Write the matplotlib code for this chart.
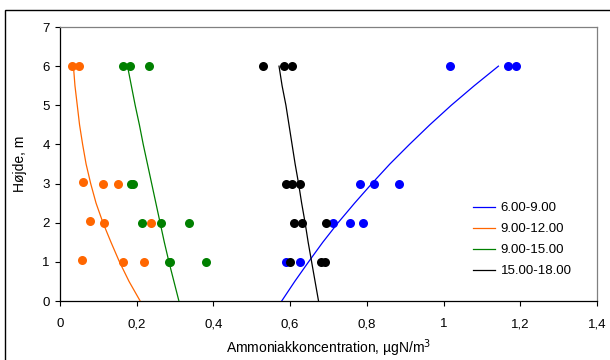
import matplotlib
matplotlib.use("Agg")
import matplotlib.pyplot as plt
from matplotlib.patches import Rectangle

plt.rcParams['font.family'] = ['Liberation Sans', 'DejaVu Sans']

# --- measured points (concentration, height) ---
blue_x = [1.018, 1.169, 1.189, 0.781, 0.819, 0.885, 0.711, 0.757, 0.790, 0.590, 0.626]
blue_y = [6, 6, 6, 3, 3, 3, 2, 2, 2, 1, 1]

orange_x = [0.032, 0.050, 0.061, 0.111, 0.152, 0.079, 0.116, 0.236, 0.057, 0.165, 0.220]
orange_y = [6, 6, 3.05, 3, 3, 2.05, 2, 2, 1.05, 1, 1]

green_x = [0.163, 0.183, 0.231, 0.184, 0.190, 0.215, 0.264, 0.337, 0.285, 0.288, 0.380]
green_y = [6, 6, 6, 3, 3, 2, 2, 2, 1, 1, 1]

black_x = [0.528, 0.584, 0.606, 0.589, 0.606, 0.626, 0.609, 0.630, 0.693, 0.600, 0.681, 0.692]
black_y = [6, 6, 6, 3, 3, 3, 2, 2, 2, 1, 1, 1]

# --- trend lines (x at each height) ---
trend_h = [0, 0.5, 1, 1.5, 2, 2.5, 3, 3.5, 4, 4.5, 5, 5.5, 6]
trend_blue = [0.578, 0.612, 0.648, 0.685, 0.725, 0.768, 0.813, 0.860, 0.911, 0.964, 1.020, 1.080, 1.143]
trend_orange = [0.209, 0.180, 0.155, 0.133, 0.112, 0.094, 0.080, 0.068, 0.059, 0.051, 0.045, 0.039, 0.035]
trend_green = [0.310, 0.297, 0.284, 0.272, 0.261, 0.250, 0.239, 0.228, 0.217, 0.207, 0.196, 0.186, 0.176]
trend_black = [0.674, 0.665, 0.656, 0.647, 0.639, 0.630, 0.622, 0.613, 0.605, 0.597, 0.589, 0.579, 0.571]

labels = ["6.00-9.00", "9.00-12.00", "9.00-15.00", "15.00-18.00"]
xticks = [0, 0.2, 0.4, 0.6, 0.8, 1.0, 1.2, 1.4]
xtick_labels = ["0", "0,2", "0,4", "0,6", "0,8", "1", "1,2", "1,4"]
yticks = [0, 1, 2, 3, 4, 5, 6, 7]

BLUE, ORANGE, GREEN, BLACK = "#0000ff", "#ff6600", "#008000", "#000000"

fig = plt.figure(figsize=(6.1, 3.6), dpi=100)
ax = fig.add_axes([60 / 610, 59 / 360, 537 / 610, 274 / 360])

ms = 6.5
ax.plot(blue_x, blue_y, 'o', color=BLUE, ms=ms, mec='none', zorder=3)
ax.plot(orange_x, orange_y, 'o', color=ORANGE, ms=ms, mec='none', zorder=3)
ax.plot(green_x, green_y, 'o', color=GREEN, ms=ms, mec='none', zorder=3)
ax.plot(black_x, black_y, 'o', color=BLACK, ms=ms, mec='none', zorder=3)

ax.plot(trend_blue, trend_h, color=BLUE, lw=0.9, label=labels[0], zorder=4)
ax.plot(trend_orange, trend_h, color=ORANGE, lw=0.9, label=labels[1], zorder=4)
ax.plot(trend_green, trend_h, color=GREEN, lw=0.9, label=labels[2], zorder=4)
ax.plot(trend_black, trend_h, color=BLACK, lw=0.9, label=labels[3], zorder=4)

ax.set_xlim(0, 1.4)
ax.set_ylim(0, 7)
ax.set_xticks(xticks)
ax.set_xticklabels(xtick_labels)
ax.set_yticks(yticks)
ax.tick_params(axis='both', direction='out', length=3.5, width=0.8, labelsize=9.5)
ax.tick_params(axis='x', pad=9)
ax.tick_params(axis='y', pad=4)

for side in ['left', 'bottom']:
    ax.spines[side].set_color('black')
    ax.spines[side].set_linewidth(0.9)
for side in ['top', 'right']:
    ax.spines[side].set_color('#808080')
    ax.spines[side].set_linewidth(0.9)

ax.set_xlabel("Ammoniakkoncentration, µgN/m$^3$", fontsize=10)
ax.set_ylabel("Højde, m", fontsize=10)
ax.xaxis.set_label_coords(0.5, -0.132)
ax.yaxis.set_label_coords(-0.062, 0.5)

ax.legend(loc='upper left', bbox_to_anchor=(0.759, 0.381), frameon=False,
          fontsize=9.5, handlelength=1.67, handletextpad=0.43, labelspacing=0.67,
          borderaxespad=0)

# outer chart frame
fig.patches.append(Rectangle((4.7 / 610, -0.2), 2, 0.2 + (360 - 10.3) / 360,
                             transform=fig.transFigure, fill=False,
                             edgecolor='black', linewidth=1.0))

fig.savefig("out.png", dpi=100)
